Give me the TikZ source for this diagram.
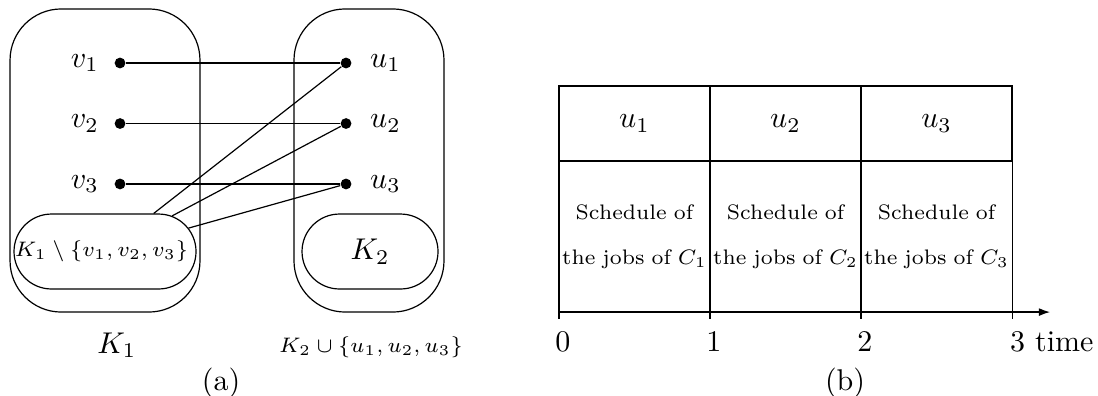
\documentclass[tikz,border=0pt]{standalone}
\usepackage{amsmath}
\usetikzlibrary{arrows.meta, positioning, shapes.misc, calc}

\begin{document}
\begin{tikzpicture}[
        node distance=0cm,
        cont/.style={rectangle, draw, rounded corners=0.6cm, minimum width=#1, minimum height=3.55cm},
        pill/.style={rounded rectangle, draw, minimum width=#1, minimum height=0.878cm, inner sep=0pt},
        setlbl/.style={font=\fontsize{7.3}{9}\selectfont},
        dot/.style={circle, fill, inner sep=0pt, minimum size=3.6pt},
        cell/.style={rectangle, draw, outer sep=0pt, minimum width=1.769cm},
        jobs/.style={align=center, text width=1.699cm, inner xsep=1pt, font=\scriptsize},
    ]
    \useasboundingbox (0,0) rectangle (12.861,-4.638);

    % (a) the two cliques
    \node[cont=2.225cm] (bigK1) at (1.230,-1.880) {};
    \node[cont=1.757cm] (bigK2) at (4.322,-1.880) {};
    \node[pill=2.132cm] (rest1) at (1.230,-2.946) {};
    \node[setlbl] (rest1txt) at (1.190,-2.946) {$K_1\setminus\{v_1,v_2,v_3\}$};
    \node[pill=1.593cm] (k2) at (4.334,-2.946) {};
    \node (k2txt) at (k2) {$K_2$};

    \node[dot] (v1) at (1.406,-0.738) {};
    \node[dot] (v2) at (1.406,-1.447) {};
    \node[dot] (v3) at (1.406,-2.155) {};
    \node[dot] (u1) at (4.053,-0.738) {};
    \node[dot] (u2) at (4.053,-1.447) {};
    \node[dot] (u3) at (4.053,-2.155) {};
    \node[left=1.5pt of v1] (lv1) {$v_1$};
    \node[left=1.5pt of v2] (lv2) {$v_2$};
    \node[left=1.5pt of v3] (lv3) {$v_3$};
    \node[right=2.5pt of u1] (lu1) {$u_1$};
    \node[right=2.5pt of u2] (lu2) {$u_2$};
    \node[right=2.5pt of u3] (lu3) {$u_3$};

    \draw (v1) -- (u1);
    \draw (v2) -- (u2);
    \draw (v3) -- (u3);
    \draw (rest1) -- (u1);
    \draw (rest1) -- (u2);
    \draw (rest1) -- (u3);

    \node (lk1) at (1.370,-4.041) {$K_1$};
    \node[setlbl] (lk2) at (4.346,-4.064) {$K_2\cup\{u_1,u_2,u_3\}$};
    \node (capa) at (2.589,-4.486) {(a)};

    % (b) the schedule
    \node[cell, minimum height=0.879cm] (top1) at (7.432,-1.447) {$u_1$};
    \node[cell, minimum height=0.879cm, right=of top1] (top2) {$u_2$};
    \node[cell, minimum height=0.879cm, right=of top2] (top3) {$u_3$};
    \node[cell, jobs, minimum height=1.769cm, below=of top1] (job1) {Schedule of\\[6.8pt] the jobs of $C_1$};
    \node[cell, jobs, minimum height=1.769cm, below=of top2] (job2) {Schedule of\\[6.8pt] the jobs of $C_2$};
    \node[cell, jobs, minimum height=1.769cm, below=of top3] (job3) {Schedule of\\[6.8pt] the jobs of $C_3$};

    \coordinate[right=0.445cm of job3.south east] (tend);
    \draw[-{Latex[length=3.7pt, width=2.6pt]}] (job1.south west) -- (tend);
    \draw (job1.south west) -- ++(0,-0.083) coordinate (t0);
    \draw (job2.south west) -- ++(0,-0.083) coordinate (t1);
    \draw (job3.south west) -- ++(0,-0.083) coordinate (t2);
    \draw (job3.south east) -- ++(0,-0.083) coordinate (t3);

    \node[below=0.7pt of t0, xshift=1.3pt] (n0) {0};
    \node[below=0.7pt of t1, xshift=1.3pt] (n1) {1};
    \node[below=0.7pt of t2, xshift=1.3pt] (n2) {2};
    \node[anchor=north west, xshift=-4.2pt, yshift=-0.7pt] (n3) at (t3) {3 time};
    \node (capb) at (9.898,-4.486) {(b)};
\end{tikzpicture}
\end{document}
